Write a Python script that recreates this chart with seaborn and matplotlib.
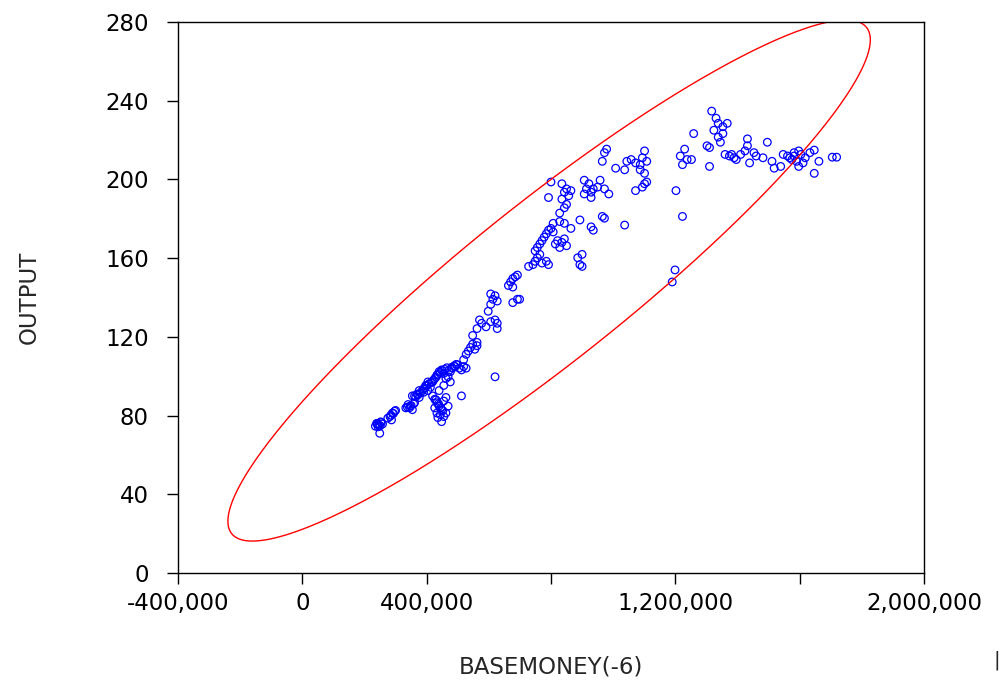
import numpy as np
import pandas as pd
import matplotlib
matplotlib.use("Agg")
import matplotlib.pyplot as plt
import seaborn as sns

# BASEMONEY(-6), in thousands, and OUTPUT
basemoney_k = [
    246, 239, 254, 244, 249, 235, 258, 282, 290, 297, 287, 275,
    333, 347, 354, 340, 361, 354, 369, 376, 390, 397, 404, 412,
    419, 426, 433, 440, 448, 455, 462, 469, 476, 483, 491, 498,
    505, 512, 519, 527, 419, 426, 433, 440, 448, 455, 462, 469,
    433, 448, 426, 512, 620, 404, 390, 455, 440, 476, 462, 455,
    376, 361,
    # overlapping points in the dense lower cluster
    243, 250, 252, 241, 285, 293, 300, 338, 345, 350, 358, 365,
    372, 380, 386, 393, 400, 408, 415, 422, 430, 437, 444, 451,
    458, 465, 472, 480, 488, 495, 430, 438, 445, 452, 436, 444,
    519, 527, 534, 541, 548, 562, 555, 562, 548, 562, 570, 577,
    591, 606, 620, 627, 627, 598, 606, 613, 606, 620, 627, 677,
    692, 699, 663, 670, 677, 685, 692, 677, 728, 742, 749, 756,
    764, 771, 785, 792, 749, 756, 764, 771, 778, 785, 792, 800,
    807, 814, 821, 828, 835, 843, 850, 807, 828, 843, 864, 893,
    929, 936, 965, 972, 1037, 886, 900, 900, 893, 828, 843, 850,
    835, 792, 800, 843, 850, 857, 864, 835, 907, 922, 914, 929,
    936, 950, 958, 972, 986, 907, 929, 965, 972, 979, 1008, 1037,
    1044, 1058, 1072, 1087, 1094, 1101, 1108, 1087, 1101, 1072, 1094, 1101,
    1108, 1202, 1223, 1199, 1190, 1216, 1230, 1238, 1223, 1252, 1259, 1310,
    1310, 1302, 1317, 1331, 1338, 1353, 1367, 1324, 1338, 1345, 1353, 1360,
    1374, 1389, 1396, 1381, 1410, 1424, 1432, 1432, 1439, 1453, 1460, 1496,
    1482, 1511, 1518, 1539, 1547, 1561, 1568, 1575, 1582, 1590, 1597, 1604,
    1611, 1582, 1597, 1618, 1633, 1647, 1647, 1662, 1705, 1719,
]
output = [
    75.1, 76.0, 76.4, 74.3, 71.0, 74.6, 75.7, 79.5, 81.3, 82.2, 77.8, 78.7,
    83.9, 84.8, 83.0, 85.6, 86.5, 90.0, 90.9, 89.2, 93.5, 95.3, 92.7, 94.4,
    97.1, 98.8, 100.6, 102.3, 103.2, 101.4, 98.8, 99.7, 102.3, 104.1, 104.9, 105.8,
    104.1, 103.2, 104.9, 104.1, 90.0, 88.3, 86.5, 84.8, 83.0, 87.4, 89.2, 84.8,
    81.3, 76.9, 83.9, 90.0, 99.7, 97.1, 91.8, 95.3, 92.7, 97.1, 81.3, 79.5,
    92.7, 90.0,
    75.5, 74.8, 76.8, 75.9, 80.2, 81.0, 82.6, 84.3, 84.0, 85.1, 86.0, 89.5,
    90.5, 91.5, 92.8, 94.0, 95.0, 96.2, 96.8, 98.0, 99.5, 100.9, 101.8, 102.8,
    103.5, 104.3, 103.0, 104.5, 105.2, 106.0, 88.0, 86.0, 84.0, 82.5, 79.0, 80.5,
    108.4, 111.1, 112.8, 114.6, 116.3, 117.2, 113.7, 115.5, 120.7, 124.2, 128.6, 126.9,
    125.1, 127.7, 128.6, 126.9, 124.2, 133.0, 136.5, 139.1, 141.8, 140.9, 138.2, 137.4,
    139.1, 139.1, 146.1, 147.9, 149.6, 150.5, 151.4, 145.3, 155.8, 156.7, 158.4, 160.2,
    161.9, 157.5, 158.4, 156.7, 163.7, 165.4, 167.2, 168.9, 170.7, 172.4, 174.2, 175.1,
    173.3, 167.2, 168.9, 165.4, 168.0, 169.8, 166.3, 177.7, 178.6, 177.7, 175.1, 179.4,
    175.9, 174.2, 181.2, 180.3, 176.8, 160.2, 161.9, 155.8, 156.7, 182.9, 185.6, 187.3,
    190.0, 190.8, 198.7, 193.5, 195.2, 191.7, 194.3, 197.8, 199.6, 197.8, 195.2, 193.5,
    195.2, 196.1, 199.6, 195.2, 192.6, 192.6, 190.8, 209.2, 213.6, 215.4, 205.7, 204.9,
    209.2, 210.1, 208.4, 207.5, 211.0, 214.5, 209.2, 204.9, 203.1, 194.3, 196.1, 197.8,
    198.7, 194.3, 181.2, 154.0, 147.9, 211.9, 215.4, 210.1, 207.5, 210.1, 223.3, 206.6,
    216.2, 217.1, 234.7, 231.1, 228.5, 226.8, 228.5, 225.0, 221.5, 218.9, 223.3, 212.7,
    211.9, 211.0, 210.1, 212.7, 212.7, 214.5, 217.1, 220.6, 208.4, 213.6, 211.9, 218.9,
    211.0, 209.2, 205.7, 206.6, 212.7, 211.9, 211.0, 210.1, 211.9, 209.2, 206.6, 212.7,
    208.4, 213.6, 214.5, 211.0, 213.6, 214.9, 203.1, 209.2, 211.3, 211.3,
]

conf_level = 0.96

df = pd.DataFrame({"BASEMONEY": np.array(basemoney_k) * 1000.0, "OUTPUT": output})

sns.set_style("white")
plt.rcParams["font.family"] = ["DejaVu Sans"]

fig = plt.figure(figsize=(10.04, 6.81), dpi=100)
ax = fig.add_axes([0.1773, 0.1586, 0.7430, 0.8091])

sns.scatterplot(data=df, x="BASEMONEY", y="OUTPUT", ax=ax, marker="o",
                facecolor="none", edgecolor="#0000ff", linewidth=0.9, s=30)

# confidence ellipse from the sample mean and covariance
mean = df[["BASEMONEY", "OUTPUT"]].mean().values
cov = np.cov(df["BASEMONEY"], df["OUTPUT"])
vals, vecs = np.linalg.eigh(cov)
k = np.sqrt(-2 * np.log(1 - conf_level))
t = np.linspace(0, 2 * np.pi, 400)
pts = vecs @ np.diag(np.sqrt(vals)) @ (np.vstack([np.cos(t), np.sin(t)]) * k)
ax.plot(pts[0] + mean[0], pts[1] + mean[1], color="red", linewidth=1.0)

ax.set_xlim(-400000, 2000000)
ax.set_ylim(0, 280)
ax.set_xticks(np.arange(-400000, 2000001, 400000))
ax.set_xticklabels(["-400,000", "0", "400,000", "", "1,200,000", "", "2,000,000"])
ax.set_yticks(np.arange(0, 281, 40))

for sp in ax.spines.values():
    sp.set_visible(True)
    sp.set_color("black")
    sp.set_linewidth(1.0)

ax.tick_params(axis="both", which="major", direction="out", length=8, width=1,
               color="black", labelsize=16.5, labelcolor="black",
               bottom=True, left=True, top=False, right=False)
ax.tick_params(axis="y", pad=13)
ax.tick_params(axis="x", pad=6)

ax.set_xlabel("BASEMONEY(-6)", fontsize=16.5, labelpad=29)
ax.set_ylabel("OUTPUT", fontsize=16.5, labelpad=46)

fig.text(0.996, 0.03, "|", fontsize=14, ha="right", va="center")

plt.savefig("out.png", dpi=100)
